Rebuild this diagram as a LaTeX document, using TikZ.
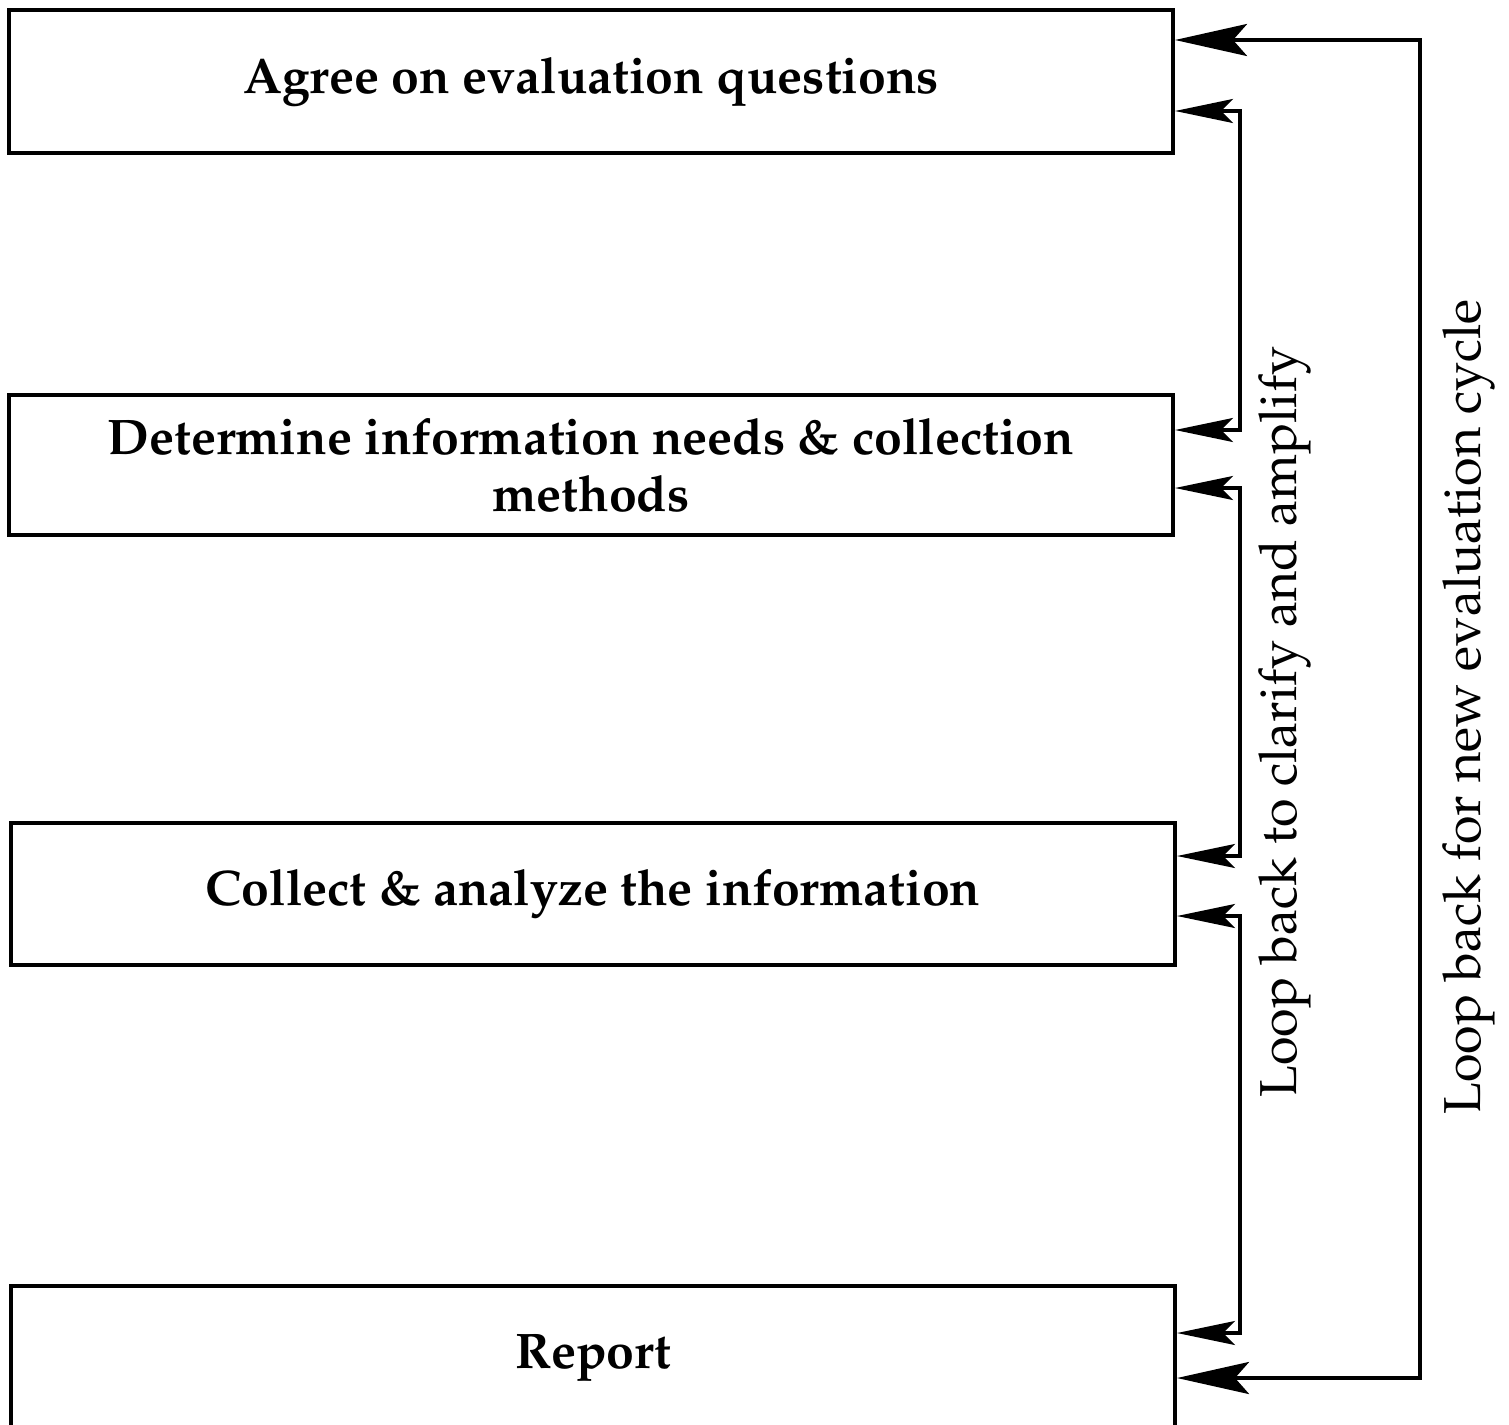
\documentclass[tikz,border=0pt]{standalone}
\usepackage[T1]{fontenc}
\usepackage{mathpazo}
\usetikzlibrary{arrows.meta}
\begin{document}
\begin{tikzpicture}[x=1pt,y=1pt,
  stepbox/.style={draw=black, line width=4pt, rectangle, inner sep=0pt,
    minimum width=1164pt, align=center,
    font=\fontsize{50}{57}\selectfont\bfseries},
  bigloop/.style={draw=black, line width=4pt,
    {Stealth[length=72pt,width=32pt,inset=14pt]}-{Stealth[length=72pt,width=32pt,inset=14pt]}},
  smallloop/.style={draw=black, line width=3.5pt,
    {Stealth[length=58pt,width=24pt,inset=12pt]}-{Stealth[length=58pt,width=24pt,inset=12pt]}},
  looplabel/.style={rotate=90, font=\fontsize{52}{60}\selectfont}]
\clip (0,0) rectangle (1509,-1424);
\fill[white] (0,0) rectangle (1509,-1424);

% the four stages
\node[stepbox, minimum height=143pt] (agree) at (591,-81.5) {Agree on evaluation questions};
\node[stepbox, minimum height=140pt] (determine) at (591,-465) {Determine information needs \& collection\\methods};
\node[stepbox, minimum height=142pt] (collect) at (593,-894) {Collect \& analyze the information};
\node[stepbox, minimum height=146pt, text depth=14pt] (report) at (593,-1359) {Report};

% vertical rails of the feedback loops
\coordinate (innerx) at (1240,0);
\coordinate (outerx) at (1420,0);

% attachment points on the right sides of the boxes
\coordinate (a1) at ([yshift=-32pt]agree.north east);
\coordinate (a2) at ([yshift=-103pt]agree.north east);
\coordinate (d1) at ([yshift=-37pt]determine.north east);
\coordinate (d2) at ([yshift=-95pt]determine.north east);
\coordinate (c1) at ([yshift=-35pt]collect.north east);
\coordinate (c2) at ([yshift=-95pt]collect.north east);
\coordinate (r1) at ([yshift=-49pt]report.north east);
\coordinate (r2) at ([yshift=-94pt]report.north east);

% loop back to clarify and amplify
\draw[smallloop] (a2) -- (a2 -| innerx) -- (d1 -| innerx) -- (d1);
\draw[smallloop] (d2) -- (d2 -| innerx) -- (c1 -| innerx) -- (c1);
\draw[smallloop] (c2) -- (c2 -| innerx) -- (r1 -| innerx) -- (r1);

% loop back for a new evaluation cycle
\draw[bigloop] (a1) -- (a1 -| outerx) -- (r2 -| outerx) -- (r2);

\node[looplabel] (lclar) at (1285,-722) {Loop back to clarify and amplify};
\node[looplabel] (lnew) at (1469,-707) {Loop back for new evaluation cycle};
\end{tikzpicture}
\end{document}
